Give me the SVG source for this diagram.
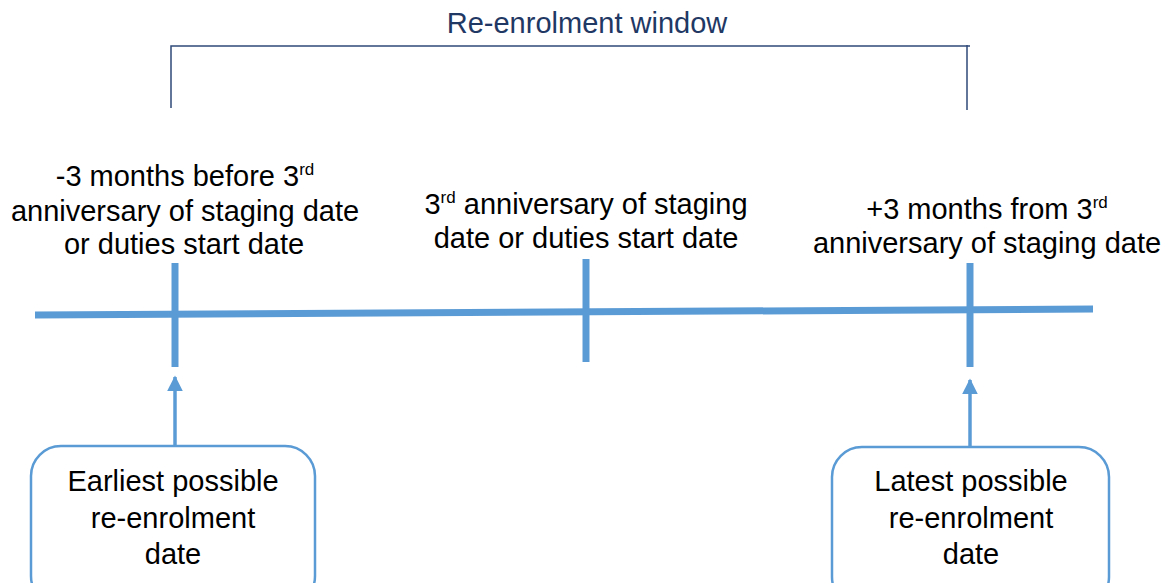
<svg xmlns="http://www.w3.org/2000/svg" width="1172" height="583" viewBox="0 0 1172 583">
<defs>
<style>
text{font-family:"Liberation Sans",Arial,sans-serif;font-size:29px;fill:#000;text-anchor:middle}
.title{fill:#1F3864}
.tl{stroke:#5B9BD5;stroke-width:7;fill:none}
.box{stroke:#5B9BD5;stroke-width:2.5;fill:#fff}
.arr{stroke:#5B9BD5;stroke-width:3.5;fill:none}
.br{stroke:#2F4A7A;stroke-width:1.5;fill:none}
.sup{font-size:17px}
</style>
<marker id="ah" viewBox="0 0 10 10" refX="9" refY="5" markerWidth="4.5" markerHeight="4.5" orient="auto" markerUnits="strokeWidth">
<path d="M0,0 L10,5 L0,10 z" fill="#5B9BD5"/>
</marker>
</defs>
<g id="window">
<text class="title" x="587" y="33">Re-enrolment window</text>
<path class="br" d="M171,108 V46 H970 M967,45 V110"/>
</g>
<g id="timeline">
<line class="tl" x1="35" y1="315" x2="1093" y2="309"/>
</g>
<g id="tick-start">
<line class="tl" x1="175" y1="263" x2="175" y2="367"/>
<text x="185" y="186">-3 months before 3<tspan class="sup" dy="-11">rd</tspan></text>
<text x="185" y="221">anniversary of staging date</text>
<text x="184" y="254">or duties start date</text>
</g>
<g id="tick-mid">
<line class="tl" x1="586" y1="259" x2="586" y2="362"/>
<text x="586" y="214">3<tspan class="sup" dy="-11">rd</tspan><tspan dy="11"> anniversary of staging</tspan></text>
<text x="586" y="248">date or duties start date</text>
</g>
<g id="tick-end">
<line class="tl" x1="970" y1="263" x2="970" y2="367"/>
<text x="987" y="219">+3 months from 3<tspan class="sup" dy="-11">rd</tspan></text>
<text x="987" y="253">anniversary of staging date</text>
</g>
<g id="connectors">
<line class="arr" x1="175" y1="447" x2="175" y2="377" marker-end="url(#ah)"/>
<line class="arr" x1="970" y1="448" x2="970" y2="380" marker-end="url(#ah)"/>
</g>
<g id="earliest">
<rect class="box" x="31" y="446" width="284" height="160" rx="30"/>
<text x="173" y="491">Earliest possible</text>
<text x="173" y="528">re-enrolment</text>
<text x="173" y="564">date</text>
</g>
<g id="latest">
<rect class="box" x="832" y="447" width="277" height="160" rx="30"/>
<text x="971" y="491">Latest possible</text>
<text x="971" y="528">re-enrolment</text>
<text x="971" y="564">date</text>
</g>
</svg>
